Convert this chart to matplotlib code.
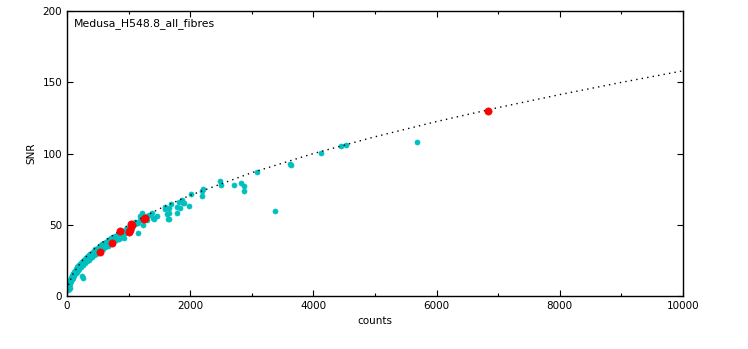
import matplotlib
matplotlib.use("Agg")
import matplotlib.pyplot as plt
from matplotlib.ticker import MultipleLocator

# ---- data ----
band_counts = [10, 15, 20, 25, 30, 35, 40, 45, 50, 55, 60, 65, 70, 75, 80, 85, 90, 95, 100,
               110, 120, 130, 140, 150, 160, 170, 180, 190, 200, 215, 230, 245, 260, 275,
               290, 305, 320, 340, 360, 380, 400, 420, 440, 460, 480, 500, 525, 550, 575,
               600, 630, 660, 690, 720, 750, 780, 820, 860, 900, 950, 1000, 1050, 1100,
               20, 30, 40, 50, 60, 70, 80, 90, 100, 120, 140, 160, 180, 200, 230, 260, 290,
               320, 350, 380, 410, 440, 470, 500, 540, 580, 620, 660, 700, 750, 800, 850, 900,
               25, 35, 45, 55, 65, 75, 85, 95, 110, 130, 150, 170, 190, 210, 240, 270, 300,
               330, 360, 390, 420, 450, 480, 520, 560, 600, 640, 680, 720, 770, 830, 880, 940, 1000,
               1100, 1150, 1180, 1250, 1300, 1050, 980]
band_snr = [4.5, 5.8, 6.5, 7.6, 8.2, 9.0, 9.6, 10.3, 10.8, 11.4, 11.8, 12.3, 12.9, 13.2, 13.9, 14.2, 14.6, 15.1, 15.3,
            16.2, 16.9, 17.6, 18.3, 18.8, 19.6, 20.1, 20.7, 21.3, 21.8, 22.5, 23.2, 23.9, 24.7, 25.3,
            26.0, 26.6, 27.2, 28.1, 28.9, 29.7, 30.5, 31.2, 31.9, 32.7, 33.3, 34.0, 34.7, 35.6, 36.4,
            37.2, 38.1, 39.0, 39.9, 40.8, 41.6, 42.4, 43.6, 44.6, 45.7, 46.9, 48.2, 49.3, 50.4,
            5.2, 7.0, 8.3, 9.3, 10.2, 11.1, 11.8, 12.6, 13.3, 14.6, 15.9, 17.0, 18.1, 19.0, 20.4, 21.7, 23.0,
            24.2, 25.3, 26.4, 27.5, 28.6, 29.6, 30.6, 31.8, 33.0, 34.2, 35.3, 36.4, 37.7, 39.0, 40.3, 41.4,
            6.9, 8.2, 9.4, 10.5, 11.3, 12.2, 13.0, 13.8, 14.9, 16.3, 17.5, 18.6, 19.7, 20.8, 22.2, 23.6, 24.9,
            26.1, 27.3, 28.4, 29.5, 30.5, 31.6, 32.9, 34.0, 35.2, 36.4, 37.5, 38.6, 40.0, 41.6, 42.9, 44.5, 45.8,
            52.0, 51.5, 53.0, 55.5, 56.5, 47.5, 47.2]

outlier_counts = [248, 255, 1146, 930, 1239, 30, 45,
                  1211, 1185, 1293, 1331, 1385, 1401, 1418, 1466, 1591, 1591, 1618, 1635, 1656,
                  1661, 1688, 1661, 1786, 1791, 1834, 1824, 1873, 1894, 1877, 1974, 2008, 2186,
                  2186, 2203, 2484, 2495, 2706, 2820, 2868, 2868, 3080, 3377, 3615, 3631, 4123,
                  4443, 4524, 5677]
outlier_snr = [14.2, 12.8, 44.4, 40.9, 49.8, 4.6, 5.5,
               58.5, 56.1, 53.3, 56.6, 58.0, 54.5, 53.8, 56.1, 61.3, 62.7, 57.5, 54.0, 53.8,
               62.0, 64.4, 58.0, 58.5, 62.7, 61.5, 66.2, 67.4, 65.5, 65.0, 63.4, 71.4, 70.4,
               74.0, 74.9, 80.9, 77.9, 78.1, 79.5, 77.4, 73.9, 87.2, 59.9, 92.8, 91.9, 100.6,
               105.5, 106.2, 108.3]

red_counts = [536, 725, 860, 1011, 1039, 1055, 1030, 1250, 1266, 6834]
red_snr = [31.1, 37.0, 45.8, 45.1, 50.3, 49.5, 46.0, 54.0, 54.5, 129.8]

model_counts = [0, 5, 25, 100, 250, 500, 1000, 1500, 2000, 3000, 4000, 5000, 6000, 7000, 8000, 9000, 10000]
model_snr = [0, 3.5, 7.9, 15.8, 25.0, 35.4, 50.0, 61.2, 70.7, 86.6, 100.0, 111.8, 122.5, 132.3, 141.4, 150.0, 158.1]

title_text = "Medusa_H548.8_all_fibres"

# ---- figure ----
fs = 7.5
fig = plt.figure(figsize=(7.48, 3.49), dpi=100)
ax = fig.add_axes([0.0896, 0.152, 0.8235, 0.816])

cyan = (0.0, 0.75, 0.75)
ax.plot(band_counts, band_snr, linestyle='none', marker='o', markersize=3.6,
        color=cyan, markeredgecolor=cyan, markeredgewidth=0.5)
ax.plot(outlier_counts, outlier_snr, linestyle='none', marker='o', markersize=3.6,
        color=cyan, markeredgecolor=cyan, markeredgewidth=0.5)
ax.plot(model_counts, model_snr, color='k', linewidth=1.0, linestyle=(0, (1, 3)))
ax.plot(red_counts, red_snr, linestyle='none', marker='o', markersize=5.2,
        color='r', markeredgecolor='r', markeredgewidth=0.5)

ax.set_xlim(0, 10000)
ax.set_ylim(0, 200)
ax.xaxis.set_major_locator(MultipleLocator(2000))
ax.xaxis.set_minor_locator(MultipleLocator(1000))
ax.yaxis.set_major_locator(MultipleLocator(50))
ax.tick_params(which='both', direction='in', top=True, right=True, labelsize=fs)
ax.tick_params(which='major', length=4, width=0.8)
ax.tick_params(which='minor', length=2.5, width=0.8)
for s in ax.spines.values():
    s.set_linewidth(1.0)

ax.set_xlabel("counts", fontsize=fs, labelpad=4)
ax.set_ylabel("SNR", fontsize=fs, labelpad=4)
ax.text(0.011, 0.958, title_text, transform=ax.transAxes, fontsize=7.8,
        ha='left', va='center')

fig.savefig("out.png", dpi=100)
